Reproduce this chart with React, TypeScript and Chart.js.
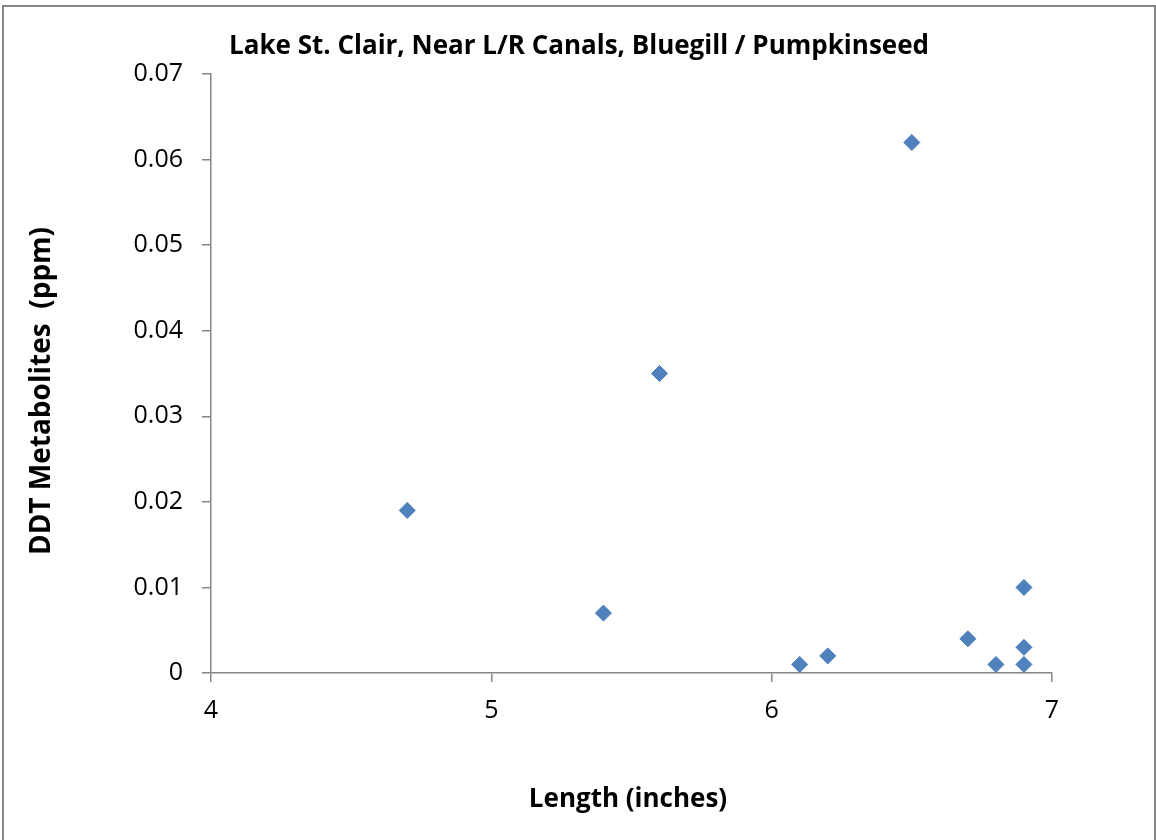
import React, { useEffect, useRef } from "react";
import { Chart, registerables } from "chart.js";

Chart.register(...registerables);

// ---- Data ----
const lengths = [4.7, 5.4, 5.6, 6.1, 6.2, 6.5, 6.7, 6.8, 6.9, 6.9, 6.9];
const ddtValues = [0.019, 0.007, 0.035, 0.001, 0.002, 0.062, 0.004, 0.001, 0.01, 0.003, 0.001];
const xTicks = [4, 5, 6, 7];
const xTickLabels = ["4", "5", "6", "7"];
const yTicks = [0, 0.01, 0.02, 0.03, 0.04, 0.05, 0.06, 0.07];
const yTickLabels = ["0", "0.01", "0.02", "0.03", "0.04", "0.05", "0.06", "0.07"];
const chartTitle = "Lake St. Clair, Near L/R Canals, Bluegill / Pumpkinseed";
const xTitle = "Length (inches)";
const yTitle = "DDT Metabolites  (ppm)";

const FONT = "'Open Sans', 'Liberation Sans', sans-serif";
const AXIS_GRAY = "#868686";

const decorPlugin = {
  id: "decor",
  beforeDraw(chart: any) {
    const { ctx, width, height } = chart;
    ctx.save();
    ctx.fillStyle = "#ffffff";
    ctx.fillRect(0, 0, width, height);
    ctx.strokeStyle = AXIS_GRAY;
    ctx.lineWidth = 2;
    ctx.beginPath();
    ctx.moveTo(3, height);
    ctx.lineTo(3, 6);
    ctx.lineTo(width - 1, 6);
    ctx.lineTo(width - 1, height);
    ctx.stroke();
    ctx.restore();
  },
  afterDraw(chart: any) {
    const { ctx } = chart;
    ctx.save();
    ctx.fillStyle = "#000000";
    ctx.textAlign = "center";
    ctx.textBaseline = "middle";
    ctx.font = `bold 26px ${FONT}`;
    ctx.fillText(chartTitle, 579, 47);
    ctx.font = `bold 26px ${FONT}`;
    ctx.fillText(xTitle, 628, 800);
    ctx.font = `bold 28px ${FONT}`;
    ctx.translate(42, 391);
    ctx.rotate(-Math.PI / 2);
    ctx.fillText(yTitle, 0, 0);
    ctx.restore();
  },
};

export default function App() {
  const canvasRef = useRef<HTMLCanvasElement | null>(null);

  useEffect(() => {
    if (!canvasRef.current) return;
    Chart.defaults.font.family = FONT;
    const chart = new Chart(canvasRef.current, {
      type: "scatter",
      data: {
        datasets: [
          {
            label: "DDT Metabolites",
            data: lengths.map((x, i) => ({ x, y: ddtValues[i] })),
            pointStyle: "rectRot",
            pointRadius: 8,
            pointHoverRadius: 8,
            backgroundColor: "#4F81BD",
            borderColor: "#4A7EBB",
            borderWidth: 1,
          },
        ],
      },
      options: {
        animation: false,
        responsive: false,
        devicePixelRatio: 1,
        layout: { padding: { top: 74, right: 104, bottom: 0, left: 0 } },
        plugins: {
          legend: { display: false },
          tooltip: { enabled: false },
          title: { display: false },
        },
        scales: {
          x: {
            type: "linear",
            position: "bottom",
            min: 4,
            max: 7,
            afterBuildTicks: (scale: any) => {
              scale.ticks = xTicks.map((value) => ({ value }));
            },
            afterFit: (scale: any) => {
              scale.height = 167;
            },
            ticks: {
              color: "#000000",
              font: { size: 25 },
              padding: 14,
              maxRotation: 0,
              callback: (_v: any, i: number) => xTickLabels[i],
            },
            grid: {
              drawOnChartArea: false,
              drawTicks: true,
              tickLength: 9,
              color: AXIS_GRAY,
              lineWidth: 1.5,
            },
            border: { display: true, color: AXIS_GRAY, width: 1.5 },
          },
          y: {
            type: "linear",
            position: "left",
            min: 0,
            max: 0.07,
            afterBuildTicks: (scale: any) => {
              scale.ticks = yTicks.map((value) => ({ value }));
            },
            afterFit: (scale: any) => {
              scale.width = 211;
            },
            ticks: {
              color: "#000000",
              font: { size: 25 },
              padding: 19,
              callback: (_v: any, i: number) => yTickLabels[i],
            },
            grid: {
              drawOnChartArea: false,
              drawTicks: true,
              tickLength: 9,
              color: AXIS_GRAY,
              lineWidth: 1.5,
            },
            border: { display: true, color: AXIS_GRAY, width: 1.5 },
          },
        },
      },
      plugins: [decorPlugin],
    });
    return () => chart.destroy();
  }, []);

  return (
    <div style={{ position: "absolute", left: 0, top: 0, width: 1156, height: 840 }}>
      <canvas ref={canvasRef} width={1156} height={840} />
    </div>
  );
}
